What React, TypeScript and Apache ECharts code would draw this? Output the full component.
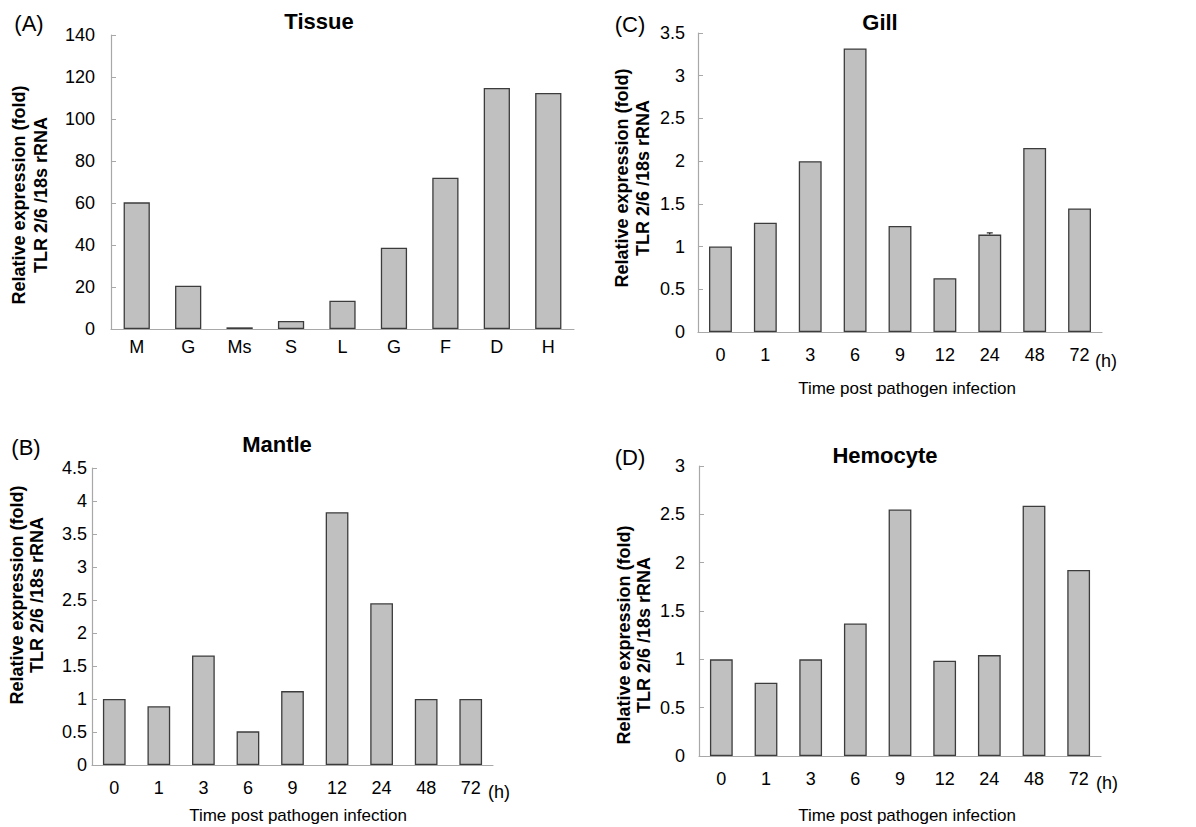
import React, { useEffect, useRef } from "react";
import * as echarts from "echarts";

const tissueCats = ["M", "G", "Ms", "S", "L", "G", "F", "D", "H"];
const tissueVals = [60.3, 20.6, 0.8, 3.8, 13.5, 38.7, 72, 114.8, 112.4];

const timeCats = ["0", "1", "3", "6", "9", "12", "24", "48", "72"];
const gillVals = [1.0, 1.28, 2.0, 3.32, 1.24, 0.63, 1.14, 2.155, 1.447];
const gillErr = [0, 0, 0, 0, 0, 0, 0.02, 0, 0];
const mantleVals = [1.0, 0.89, 1.66, 0.51, 1.12, 3.83, 2.45, 1.0, 1.0];
const hemocyteVals = [1.0, 0.757, 1.0, 1.37, 2.55, 0.985, 1.044, 2.59, 1.925];

const tissueTicks = { max: 140, interval: 20 };
const gillTicks = { max: 3.5, interval: 0.5 };
const mantleTicks = { max: 4.5, interval: 0.5 };
const hemocyteTicks = { max: 3, interval: 0.5 };

const FONT = '"Liberation Sans", Arial, Helvetica, sans-serif';
const AXIS_COLOR = "#a8a8a8";

function txt(text: string, x: number, y: number, size: number, bold = false, rot = 0, lh = 0) {
  return {
    type: "text",
    x,
    y,
    rotation: rot,
    silent: true,
    style: {
      text,
      x: 0,
      y: 0,
      fill: "#000",
      fontSize: size,
      fontWeight: bold ? "bold" : "normal",
      fontFamily: FONT,
      lineHeight: lh || Math.round(size * 1.25),
      align: "center",
      verticalAlign: "middle",
      textAlign: "center",
      textVerticalAlign: "middle",
    },
  };
}

export default function App() {
  const ref = useRef<HTMLDivElement>(null);
  useEffect(() => {
    document.body.style.margin = "0";
    if (!ref.current) return;
    const chart = echarts.init(ref.current, undefined, { renderer: "svg" });

    const grids = [
      { left: 111, top: 35, width: 463, height: 294 },
      { left: 698, top: 33, width: 404, height: 299 },
      { left: 92, top: 468, width: 401, height: 297 },
      { left: 699, top: 466, width: 402, height: 290 },
    ];
    const cats = [tissueCats, timeCats, timeCats, timeCats];
    const ticks = [tissueTicks, gillTicks, mantleTicks, hemocyteTicks];
    const vals = [tissueVals, gillVals, mantleVals, hemocyteVals];
    const xMargins = [9, 14, 14, 14];
    const yMargins = [16, 13, 5, 14];

    const xAxis = grids.map((_, i) => ({
      type: "category",
      gridIndex: i,
      data: cats[i],
      boundaryGap: true,
      axisLine: { lineStyle: { color: AXIS_COLOR, width: 1.2 } },
      axisTick: { inside: true, length: 5, lineStyle: { color: AXIS_COLOR } },
      axisLabel: { color: "#000", fontSize: 18, fontFamily: FONT, margin: xMargins[i], interval: 0 },
      splitLine: { show: false },
    }));
    const yAxis = grids.map((_, i) => ({
      type: "value",
      gridIndex: i,
      min: 0,
      max: ticks[i].max,
      interval: ticks[i].interval,
      axisLine: { show: true, lineStyle: { color: AXIS_COLOR, width: 1.2 } },
      axisTick: { show: true, inside: true, length: 5, lineStyle: { color: AXIS_COLOR } },
      axisLabel: { color: "#000", fontSize: 18, fontFamily: FONT, margin: yMargins[i] },
      splitLine: { show: false },
    }));
    const series: any[] = vals.map((v, i) => ({
      type: "bar",
      xAxisIndex: i,
      yAxisIndex: i,
      data: v,
      barWidth: "51%",
      itemStyle: { color: "#c0c0c0", borderColor: "#3c3c3c", borderWidth: 1.3 },
      silent: true,
    }));
    series.push({
      type: "custom",
      xAxisIndex: 1,
      yAxisIndex: 1,
      silent: true,
      data: gillVals.map((v, i) => [i, v, gillErr[i]]),
      renderItem: (params: any, api: any) => {
        const idx = api.value(0);
        const val = api.value(1);
        const err = api.value(2);
        if (!err) return null;
        const base = api.coord([idx, val]);
        const top = api.coord([idx, val + err]);
        const st = { stroke: "#000", lineWidth: 1 };
        return {
          type: "group",
          children: [
            { type: "line", shape: { x1: base[0], y1: base[1], x2: top[0], y2: top[1] }, style: st },
            { type: "line", shape: { x1: top[0] - 3, y1: top[1], x2: top[0] + 3, y2: top[1] }, style: st },
          ],
        };
      },
    });

    const yName = "Relative expression (fold)\nTLR 2/6 /18s rRNA";
    const graphic = [
      txt("Tissue", 319, 21, 22, true),
      txt("Gill", 880, 22, 22, true),
      txt("Mantle", 277, 444, 22, true),
      txt("Hemocyte", 885, 455, 22, true),
      txt("(A)", 29, 23, 22),
      txt("(C)", 630, 24, 22),
      txt("(B)", 26, 447, 22),
      txt("(D)", 630, 457, 22),
      txt("(h)", 1106, 361, 18),
      txt("(h)", 499, 792, 18),
      txt("(h)", 1107, 783, 18),
      txt("Time post pathogen infection", 907, 388, 17),
      txt("Time post pathogen infection", 298, 815, 17),
      txt("Time post pathogen infection", 907, 815, 17),
      txt(yName, 30, 195, 18, true, Math.PI / 2, 22),
      txt(yName, 632, 178, 18, true, Math.PI / 2, 21),
      txt(yName, 27, 595, 18, true, Math.PI / 2, 20),
      txt(yName, 634, 635, 18, true, Math.PI / 2, 20),
    ];

    chart.setOption({
      animation: false,
      backgroundColor: "#ffffff",
      grid: grids,
      xAxis,
      yAxis,
      series,
      graphic,
    });
    return () => chart.dispose();
  }, []);
  return <div ref={ref} style={{ width: 1196, height: 827 }} />;
}
